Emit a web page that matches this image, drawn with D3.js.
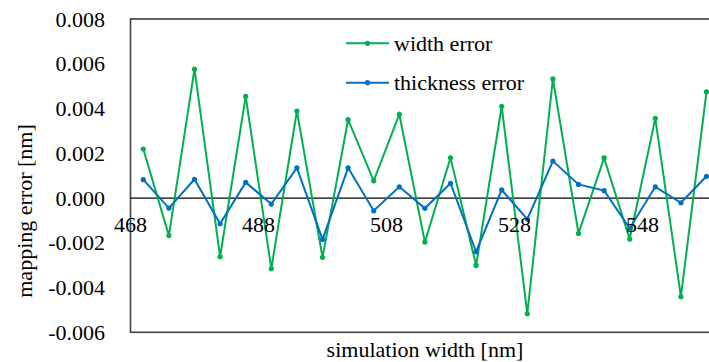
<!DOCTYPE html>
<html>
<head>
<meta charset="utf-8">
<script src="https://cdn.jsdelivr.net/npm/d3@7"></script>
<style>
	body { margin: 0; background: #fff; }
</style>
</head>
<body>
<div id="graphic"></div>
<script>
var widths = [470,474,478,482,486,490,494,498,502,506,510,514,518,522,526,530,534,538,542,546,550,554,558]
var widthError = [0.00219,-0.00168,0.00576,-0.00262,0.00454,-0.00316,0.00389,-0.00265,0.0035,0.00077,0.00374,-0.00197,0.0018,-0.00301,0.0041,-0.00517,0.00532,-0.00158,0.00179,-0.00183,0.00356,-0.00441,0.00474]
var thicknessError = [0.00082,-0.00045,0.00084,-0.00115,0.0007,-0.00027,0.00135,-0.00185,0.00135,-0.00057,0.0005,-0.00046,0.00066,-0.0024,0.00036,-0.00094,0.00165,0.00061,0.00033,-0.00135,0.0005,-0.00021,0.00097]
var xTicks = [468,488,508,528,548]
var yTicks = [-0.006,-0.004,-0.002,0,0.002,0.004,0.006,0.008]
var seriesNames = ["width error","thickness error"]

var width = 709, height = 362
var margins = {top: 19, left: 130.5, bottom: 30}
var green = "#00b050", blue = "#0070c0"

var x = d3.scaleLinear().domain([468, 568]).range([margins.left, margins.left + 640])
var y = d3.scaleLinear().domain([-0.006, 0.008]).range([height - margins.bottom + 0.3, margins.top])

var svg = d3.select("#graphic").append("svg")
	.attr("width", width)
	.attr("height", height)
	.attr("font-family", "'Liberation Serif', 'Times New Roman', 'DejaVu Serif', serif")
	.attr("font-size", 22)

// plot frame (right side runs off the picture)
svg.append("rect")
	.attr("x", x(468))
	.attr("y", y(0.008))
	.attr("width", x(568) - x(468))
	.attr("height", y(-0.006) - y(0.008))
	.attr("fill", "none")
	.attr("stroke", "#404040")
	.attr("stroke-width", 1.6)

// y tick labels
svg.selectAll(".ylab")
	.data(yTicks)
	.enter()
	.append("text")
		.attr("class", "ylab")
		.attr("x", 105)
		.attr("y", function(d){ return y(d) + 7.5 })
		.attr("text-anchor", "end")
		.text(function(d){ return d3.format(".3f")(d).replace("−", "-") })

// zero line
svg.append("line")
	.attr("x1", x(468))
	.attr("x2", width)
	.attr("y1", y(0))
	.attr("y2", y(0))
	.attr("stroke", "#000")
	.attr("stroke-width", 1.3)

var line = d3.line()
	.x(function(d){ return x(d[0]) })
	.y(function(d){ return y(d[1]) })

function drawSeries(values, color){
	var pts = widths.map(function(w, i){ return [w, values[i]] })
	svg.append("path")
		.datum(pts)
		.attr("d", line)
		.attr("fill", "none")
		.attr("stroke", color)
		.attr("stroke-width", 2)
	svg.selectAll(null)
		.data(pts)
		.enter()
		.append("circle")
			.attr("cx", function(d){ return x(d[0]) })
			.attr("cy", function(d){ return y(d[1]) })
			.attr("r", 2.6)
			.attr("fill", color)
}
drawSeries(widthError, green)
drawSeries(thicknessError, blue)

// x tick labels sit below the zero line
svg.selectAll(".xlab")
	.data(xTicks)
	.enter()
	.append("text")
		.attr("class", "xlab")
		.attr("x", function(d){ return x(d) })
		.attr("y", y(0) + 34)
		.attr("text-anchor", "middle")
		.text(function(d){ return d })

// axis titles
svg.append("text")
	.attr("x", 425)
	.attr("y", 357)
	.attr("text-anchor", "middle")
	.text("simulation width [nm]")

svg.append("text")
	.attr("transform", "translate(32,211) rotate(-90)")
	.attr("text-anchor", "middle")
	.text("mapping error [nm]")

// legend
var legend = svg.selectAll(".legendItem")
	.data(seriesNames)
	.enter()
	.append("g")
		.attr("class", "legendItem")
		.attr("transform", function(d, i){ return "translate(346," + (43.3 + i * 39.4) + ")" })
legend.append("line")
	.attr("x1", 0).attr("x2", 43)
	.attr("stroke", function(d, i){ return i == 0 ? green : blue })
	.attr("stroke-width", 2)
legend.append("circle")
	.attr("cx", 21.5)
	.attr("r", 2.6)
	.attr("fill", function(d, i){ return i == 0 ? green : blue })
legend.append("text")
	.attr("x", 48)
	.attr("y", 7.5)
	.text(function(d){ return d })
</script>
</body>
</html>
